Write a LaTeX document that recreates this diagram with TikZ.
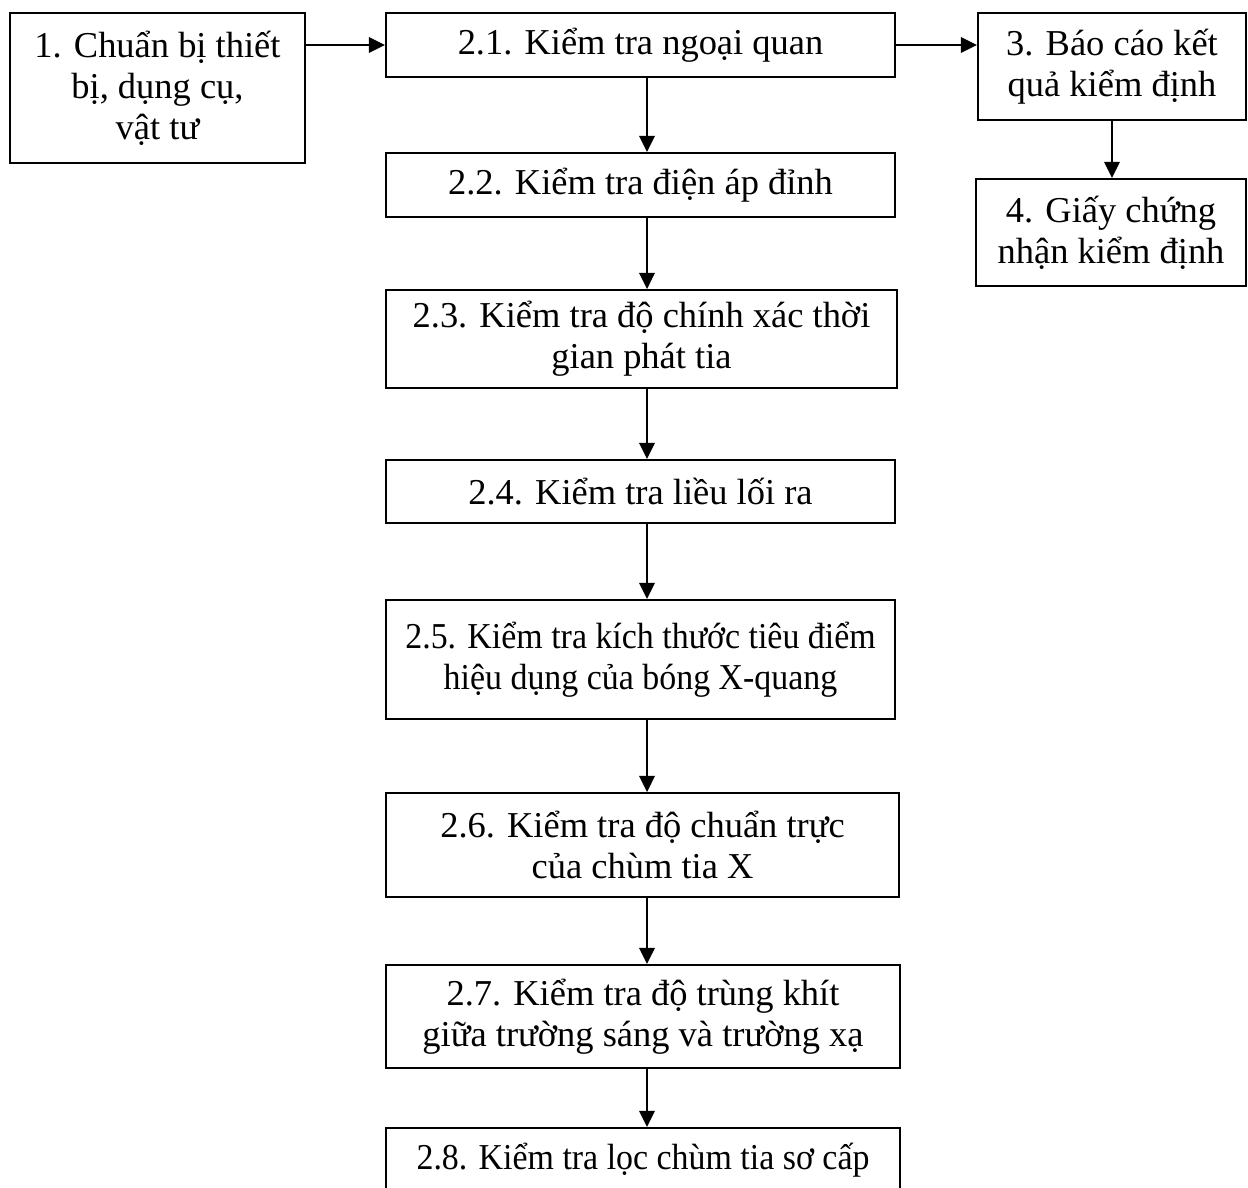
\documentclass[tikz,border=0pt]{standalone}
\usepackage{fontspec}
\setmainfont{Liberation Serif}
\newfontfamily\strettofont[FakeStretch=0.93]{Liberation Serif}
\usepackage{tikz}
\usetikzlibrary{arrows.meta}

\tikzset{
	riquadro/.style={draw, line width=0.8pt, align=center, inner sep=0pt, font=\fontsize{14pt}{15.7pt}\selectfont},
	freccia/.style={-{Triangle[length=6.2pt,width=6pt]}, line width=0.6pt}
}

\begin{document}
\begin{tikzpicture}[x=0.384pt,y=-0.384pt]
		% Area del disegno
		\useasboundingbox (0,0) rectangle (1248,1187);
		
		% Colonna di sinistra
		\node[riquadro, minimum width=113.3pt, minimum height=57.6pt] (b1) at (157.5,88) {1. Chuẩn bị thiết\\bị, dụng cụ,\\vật tư}; % Preparazione
		
		% Colonna centrale: le prove
		\node[riquadro, minimum width=195.5pt, minimum height=24.6pt] (b21) at (640.5,45) {2.1. Kiểm tra ngoại quan}; % Prova 2.1
		\node[riquadro, minimum width=195.5pt, minimum height=24.6pt] (b22) at (640.5,185) {2.2. Kiểm tra điện áp đỉnh}; % Prova 2.2
		\node[riquadro, minimum width=196.2pt, minimum height=37.6pt] (b23) at (641.5,339) {2.3. Kiểm tra độ chính xác thời\\gian phát tia}; % Prova 2.3
		\node[riquadro, minimum width=195.5pt, minimum height=24.2pt] (b24) at (640.5,491.5) {2.4. Kiểm tra liều lối ra}; % Prova 2.4
		\node[riquadro, minimum width=195.5pt, minimum height=45.7pt] (b25) at (640.5,659.5) {\strettofont 2.5. Kiểm tra kích thước tiêu điểm\\\strettofont hiệu dụng của bóng X-quang}; % Prova 2.5
		\node[riquadro, minimum width=197pt, minimum height=39.9pt] (b26) at (642.5,845) {2.6. Kiểm tra độ chuẩn trực\\của chùm tia X}; % Prova 2.6
		\node[riquadro, minimum width=197.4pt, minimum height=39.6pt] (b27) at (643,1016.5) {2.7. Kiểm tra độ trùng khít\\giữa trường sáng và trường xạ}; % Prova 2.7
		\node[riquadro, minimum width=197.4pt, minimum height=24.6pt] (b28) at (643,1160) {\strettofont 2.8. Kiểm tra lọc chùm tia sơ cấp}; % Prova 2.8 (tagliata in basso)
		
		% Colonna di destra
		\node[riquadro, minimum width=102.9pt, minimum height=41.1pt] (b3) at (1112,66.5) {3. Báo cáo kết\\quả kiểm định}; % Rapporto
		\node[riquadro, minimum width=103.7pt, minimum height=41.1pt] (b4) at (1111,232.5) {4. Giấy chứng\\nhận kiểm định}; % Certificato
		
		% Frecce orizzontali
		\draw[freccia] (b1.east |- b21.west) -- (b21.west); % 1 verso 2.1
		\draw[freccia] (b21.east) -- (b3.west |- b21.east); % 2.1 verso 3
		\draw[freccia] (b3.south) -- (b3.south |- b4.north); % 3 verso 4
		
		% Frecce verticali
		\draw[freccia] ([xshift=2.5pt]b21.south) -- ([xshift=2.5pt]b21.south |- b22.north); % 2.1 verso 2.2
		\draw[freccia] ([xshift=2.5pt]b22.south) -- ([xshift=2.5pt]b22.south |- b23.north); % 2.2 verso 2.3
		\draw[freccia] ([xshift=2.5pt]b24.north |- b23.south) -- ([xshift=2.5pt]b24.north); % 2.3 verso 2.4
		\draw[freccia] ([xshift=2.5pt]b24.south) -- ([xshift=2.5pt]b24.south |- b25.north); % 2.4 verso 2.5
		\draw[freccia] ([xshift=2.5pt]b25.south) -- ([xshift=2.5pt]b25.south |- b26.north); % 2.5 verso 2.6
		\draw[freccia] ([xshift=2.5pt]b25.south |- b26.south) -- ([xshift=2.5pt]b25.south |- b27.north); % 2.6 verso 2.7
		\draw[freccia] ([xshift=2.5pt]b25.south |- b27.south) -- ([xshift=2.5pt]b25.south |- b28.north); % 2.7 verso 2.8
	\end{tikzpicture}
\end{document}
